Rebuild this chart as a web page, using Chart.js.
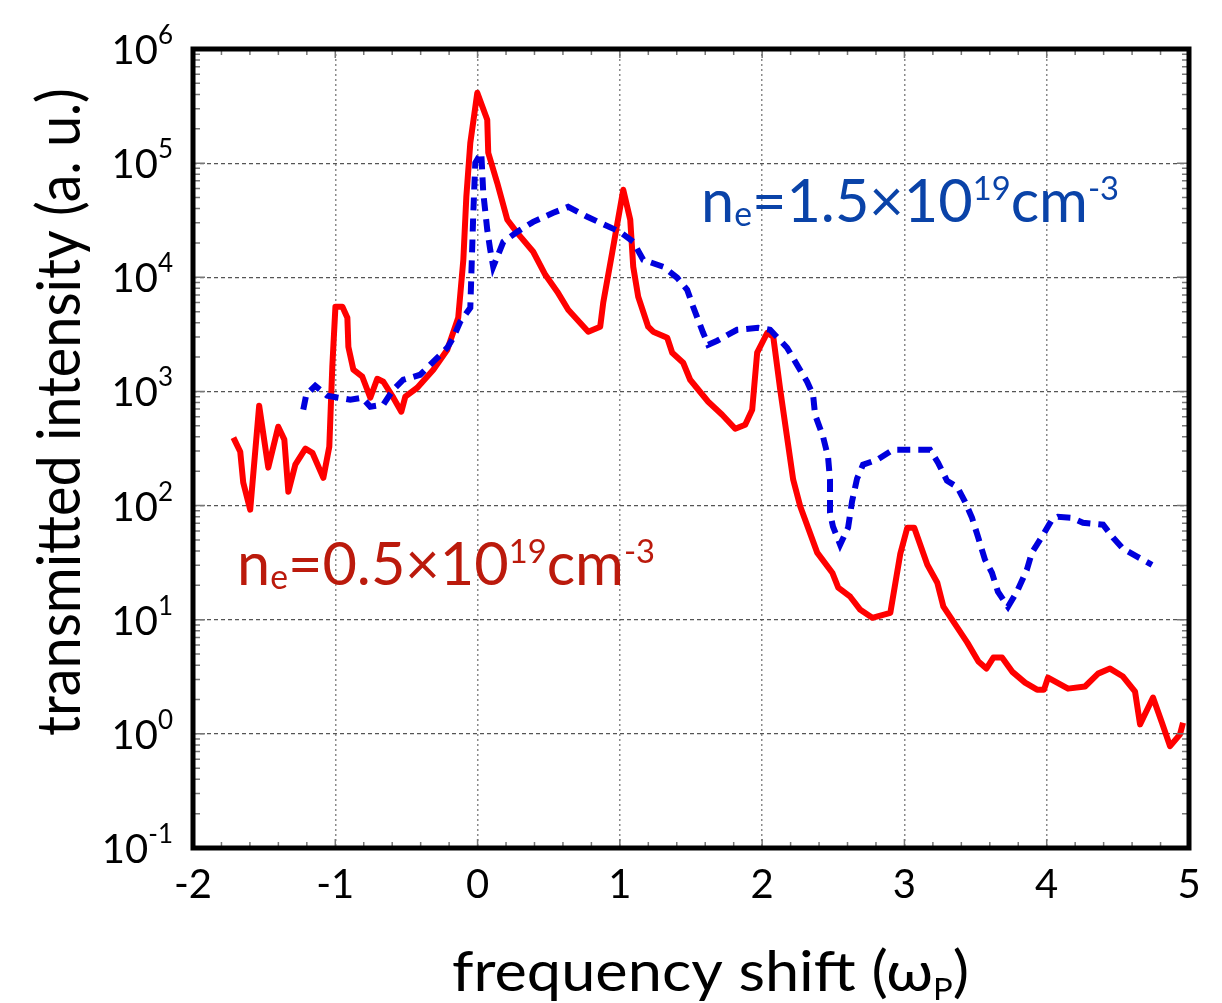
<!DOCTYPE html>
<html>
<head>
<meta charset="utf-8">
<script src="https://cdn.jsdelivr.net/npm/chart.js@4.4.0/dist/chart.umd.min.js"></script>
<style>
  html, body { margin: 0; padding: 0; background: #fff; }
  #wrap { width: 1222px; height: 1003px; }
</style>
</head>
<body>
<div id="wrap"><canvas id="chart" width="1222" height="1003"></canvas></div>
<script>
/*---------------------------------
   DATA
 ----------------------------------*/
// n_e = 0.5e19 cm^-3 (red, solid)
var redX = [-1.716, -1.668, -1.647, -1.598, -1.535, -1.471, -1.401, -1.358, -1.330, -1.281,
    -1.210, -1.161, -1.084, -1.042, -1.021, -0.999, -0.950, -0.915, -0.908, -0.873,
    -0.810, -0.754, -0.705, -0.662, -0.592, -0.536, -0.508, -0.424, -0.311, -0.213,
    -0.136, -0.100, -0.079, -0.051, -0.002, 0.068, 0.075, 0.138, 0.209, 0.279,
    0.391, 0.476, 0.560, 0.637, 0.778, 0.862, 0.883, 0.946, 1.024, 1.073,
    1.094, 1.129, 1.199, 1.234, 1.333, 1.368, 1.445, 1.494, 1.621, 1.719,
    1.811, 1.881, 1.930, 1.965, 2.036, 2.078, 2.127, 2.218, 2.268, 2.387,
    2.493, 2.535, 2.619, 2.690, 2.774, 2.901, 2.971, 3.020, 3.069, 3.161,
    3.231, 3.274, 3.442, 3.520, 3.576, 3.625, 3.686, 3.757, 3.848, 3.932,
    3.981, 4.009, 4.150, 4.269, 4.361, 4.445, 4.536, 4.621, 4.656, 4.747,
    4.810, 4.867, 4.937, 4.958];
var redY = [394, 296, 159, 92, 750, 215, 491, 378, 132, 228,
    315, 290, 175, 328, 1645, 5520, 5520, 4420, 2460, 1549,
    1345, 881, 1291, 1216, 881, 664, 899, 1077, 1549, 2318,
    4420, 14230, 50700, 150600, 413000, 240000, 123300, 67300, 31900, 24500,
    16740, 10520, 7480, 5200, 3335, 3690, 5980, 16400, 58400, 31900,
    12360, 6750, 3690, 3335, 2954, 2183, 1783, 1266, 812, 625,
    471, 510, 692, 2183, 3266, 3015, 1035, 169, 98, 38.7,
    25.8, 19.1, 15.9, 12.2, 10.4, 11.5, 37.9, 64, 64, 30.3,
    21.1, 13.0, 6.3, 4.30, 3.73, 4.66, 4.66, 3.51, 2.81, 2.44,
    2.44, 3.11, 2.49, 2.60, 3.37, 3.73, 3.18, 2.34, 1.21, 2.08,
    1.25, 0.78, 0.99, 1.25];

// n_e = 1.5e19 cm^-3 (blue, dashed)
var blueX = [-1.225, -1.204, -1.141, -1.057, -0.895, -0.811, -0.754, -0.663, -0.593, -0.522,
    -0.403, -0.311, -0.213, -0.171, -0.122, -0.051, -0.030, -0.016, 0.026, 0.040,
    0.068, 0.089, 0.110, 0.181, 0.279, 0.391, 0.532, 0.637, 0.771, 0.862,
    1.002, 1.094, 1.164, 1.305, 1.403, 1.473, 1.515, 1.585, 1.621, 1.684,
    1.824, 1.972, 2.056, 2.175, 2.245, 2.316, 2.358, 2.372, 2.428, 2.463,
    2.477, 2.477, 2.498, 2.548, 2.604, 2.632, 2.667, 2.709, 2.808, 2.920,
    3.180, 3.236, 3.299, 3.370, 3.426, 3.475, 3.517, 3.566, 3.615, 3.657,
    3.728, 3.791, 3.861, 3.896, 3.966, 4.037, 4.079, 4.178, 4.255, 4.396,
    4.466, 4.536, 4.635, 4.740];
var blueY = [692, 935, 1122, 916, 846, 881, 735, 765, 1035, 1266,
    1400, 1820, 2415, 2954, 4080, 5410, 36700, 100700, 123300, 55000,
    26060, 17400, 12360, 20460, 25000, 30600, 36700, 41400, 33900, 30000,
    25000, 20460, 14230, 12360, 9900, 7780, 5520, 3266, 2566, 2780,
    3470, 3610, 3470, 2415, 1714, 1216, 935, 625, 401, 268,
    169, 86.7, 65.3, 45.5, 64, 109, 172, 228, 252, 308,
    308, 238, 165, 146, 108, 78, 53.3, 33.6, 25.8, 17.6,
    13.0, 17.6, 27.5, 38.7, 53.3, 75.2, 79.8, 78, 70.8, 68,
    52.4, 42, 35.7, 30.3];

var xTicks = [-2, -1, 0, 1, 2, 3, 4, 5];
var yExponents = [-1, 0, 1, 2, 3, 4, 5, 6];

function pairs(xs, ys) {
    return xs.map(function(x, i) { return { x: x, y: ys[i] }; });
}

/*---------------------------------
   TEXT HELPERS
 ----------------------------------*/
var FONT = 'Lato, "Open Sans", sans-serif';

// draws runs of text (with sub/superscripts) squeezed to a given width
function drawRich(ctx, parts, x, y, width, color, align) {
    var total = 0;
    parts.forEach(function(p) {
        ctx.font = p.size + 'px ' + FONT;
        p.w = ctx.measureText(p.t).width;
        total += p.w;
    });
    var sx = width ? width / total : 1;
    var start = x;
    if (align === 'center') start = x - total * sx / 2;
    if (align === 'right') start = x - total * sx;
    ctx.save();
    ctx.translate(start, y);
    ctx.scale(sx, 1);
    ctx.fillStyle = color;
    ctx.textBaseline = 'alphabetic';
    ctx.textAlign = 'left';
    var cx = 0;
    parts.forEach(function(p) {
        ctx.font = p.size + 'px ' + FONT;
        ctx.fillText(p.t, cx, p.dy || 0);
        cx += p.w;
    });
    ctx.restore();
}

function densityLabel(value) {
    return [
        { t: 'n', size: 60 },
        { t: 'e', size: 34, dy: 4 },
        { t: '=' + value + '×10', size: 60 },
        { t: '19', size: 33, dy: -22 },
        { t: 'cm', size: 60 },
        { t: '-3', size: 33, dy: -22 }
    ];
}

/*---------------------------------
   FRAME, TICKS AND TEXT
 ----------------------------------*/
var decorPlugin = {
    id: 'decor',
    afterDatasetsDraw: function(chart) {
        var ctx = chart.ctx;
        var a = chart.chartArea;
        var xs = chart.scales.x;
        var ys = chart.scales.y;

        ctx.save();
        // minor ticks on x (every 0.2), top and bottom
        ctx.strokeStyle = '#777';
        ctx.lineWidth = 1.5;
        for (var i = -10; i <= 25; i++) {
            var px = xs.getPixelForValue(i / 5);
            var len = (i % 5 === 0) ? 9 : 6;
            ctx.beginPath();
            ctx.moveTo(px, a.bottom);
            ctx.lineTo(px, a.bottom - len);
            ctx.moveTo(px, a.top);
            ctx.lineTo(px, a.top + len);
            ctx.stroke();
        }
        // log minor ticks on y, left and right
        for (var e = -1; e < 6; e++) {
            for (var m = 1; m < 10; m++) {
                var py = ys.getPixelForValue(m * Math.pow(10, e));
                var l = (m === 1) ? 12 : 7;
                ctx.beginPath();
                ctx.moveTo(a.left, py);
                ctx.lineTo(a.left + l, py);
                ctx.moveTo(a.right, py);
                ctx.lineTo(a.right - l, py);
                ctx.stroke();
            }
        }
        // frame
        ctx.strokeStyle = '#000';
        ctx.lineWidth = 5;
        ctx.strokeRect(a.left, a.top, a.right - a.left, a.bottom - a.top);
        ctx.restore();

        // x tick labels
        xTicks.forEach(function(v) {
            drawRich(ctx, [{ t: String(v), size: 40 }], xs.getPixelForValue(v), 898, 0, '#000', 'center');
        });
        // y tick labels 10^n
        yExponents.forEach(function(n) {
            var py = ys.getPixelForValue(Math.pow(10, n));
            drawRich(ctx, [
                { t: '10', size: 40, dy: 0 },
                { t: String(n), size: 26, dy: -20 }
            ], 173, py + 15, 0, '#000', 'right');
        });

        // axis titles
        drawRich(ctx, [
            { t: 'frequency shift (ω', size: 56 },
            { t: 'P', size: 30, dy: 9 },
            { t: ')', size: 56 }
        ], 452, 991, 517, '#000', 'left');

        ctx.save();
        ctx.translate(80, 412);
        ctx.rotate(-Math.PI / 2);
        drawRich(ctx, [{ t: 'transmitted intensity (a. u.)', size: 60 }], 0, 0, 648, '#000', 'center');
        ctx.restore();

        // series labels
        drawRich(ctx, densityLabel('1.5'), 701, 222, 418, '#0a43a8', 'left');
        drawRich(ctx, densityLabel('0.5'), 237, 585, 418, '#bb1a0c', 'left');
    }
};

/*---------------------------------
   CHART
 ----------------------------------*/
var config = {
    type: 'scatter',
    data: {
        datasets: [{
            label: 'ne=1.5e19',
            data: pairs(blueX, blueY),
            showLine: true,
            borderColor: '#0000dd',
            borderWidth: 6,
            borderDash: [13, 8],
            pointRadius: 0,
            tension: 0
        }, {
            label: 'ne=0.5e19',
            data: pairs(redX, redY),
            showLine: true,
            borderColor: '#ff0000',
            borderWidth: 6,
            borderJoinStyle: 'round',
            pointRadius: 0,
            tension: 0
        }]
    },
    options: {
        responsive: false,
        animation: false,
        layout: { padding: { left: 193, right: 33, top: 49, bottom: 155 } },
        plugins: { legend: { display: false }, tooltip: { enabled: false } },
        scales: {
            x: {
                type: 'linear',
                min: -2,
                max: 5,
                ticks: { display: false, stepSize: 1 },
                grid: { color: '#8a8a8a', lineWidth: 1.5, drawTicks: false },
                border: { display: false, dash: [2, 3] },
                afterFit: function(s) { s.height = 0; }
            },
            y: {
                type: 'logarithmic',
                min: 0.1,
                max: 1e6,
                ticks: { display: false },
                grid: {
                    drawTicks: false,
                    lineWidth: 1.2,
                    color: function(c) {
                        var v = c.tick ? c.tick.value : 0;
                        var lg = Math.log10(v);
                        return Math.abs(lg - Math.round(lg)) < 1e-6 ? '#555' : 'rgba(0,0,0,0)';
                    }
                },
                border: { display: false, dash: [4, 3] },
                afterFit: function(s) { s.width = 0; }
            }
        }
    },
    plugins: [decorPlugin]
};

window.onload = function() {
    var ctx = document.getElementById('chart').getContext('2d');
    window.myChart = new Chart(ctx, config);
};
</script>
</body>
</html>
